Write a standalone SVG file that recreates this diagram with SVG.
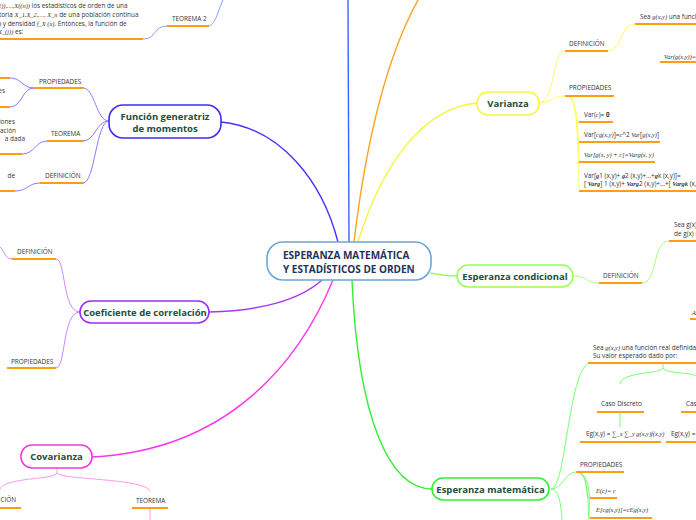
<svg xmlns="http://www.w3.org/2000/svg" width="696" height="520" viewBox="0 0 696 520">
<style>
.lbl{font-family:"Open Sans","Noto Sans",sans-serif;font-size:6.4px;fill:#333}
.m{font-family:"Liberation Serif",serif;font-style:italic}
.b{font-weight:bold}
.ul{stroke:#ff9d14;stroke-width:2;fill:none}
.nt{font-family:"Open Sans","Noto Sans",sans-serif;font-weight:bold;font-size:9.5px;fill:#1d4d3b;text-anchor:middle}
.c{fill:none;stroke-width:1.4}
.s{fill:none;stroke-width:1}
</style>
<rect width="696" height="520" fill="#fff"/>
<g id="connectors">
<path class="c" stroke="#3b63ff" d="M348,0 L349,242"/>
<path class="c" stroke="#ffa020" d="M354,242 C365,150 385,60 418,0"/>
<path class="c" stroke="#f5f542" d="M358,242 C380,170 420,108 477,103"/>
<path class="c" stroke="#99ff55" d="M430,273 C440,275 450,276 457,276"/>
<path class="c" stroke="#33ee33" d="M352,280 C358,420 390,489 432,489"/>
<path class="c" stroke="#ff33ee" d="M333,280 C300,360 230,450 92,457"/>
<path class="c" stroke="#aa33ff" d="M322,280 C300,300 260,311 209,312"/>
<path class="c" stroke="#4433ff" d="M221,122 C280,128 322,180 338,242"/>
<g stroke="#8c7cff">
<path class="s" d="M109,121 C96,121 95,88 83,88"/>
<path class="s" d="M109,121 C96,121 95,141 83,141"/>
<path class="s" d="M109,121 C96,121 95,183 83,183"/>
<path class="s" d="M34,88 C22,88 22,78 10,78"/>
<path class="s" d="M34,88 C22,88 22,107 10,107"/>
<path class="s" d="M47,141 C35,141 35,154 22,154"/>
<path class="s" d="M40,183 C28,183 28,191 15,191"/>
</g>
<g stroke="#8ca0ff">
<path class="s" d="M209,26 C216,24 218,10 223,0"/>
<path class="s" d="M143,39 C157,39 153,26 167,26"/>
</g>
<g stroke="#cc88ff">
<path class="s" d="M80,312 C62,312 66,259 56,259"/>
<path class="s" d="M80,312 C62,312 66,368 56,368"/>
<path class="s" d="M12,259 C5,259 4,250 0,247"/>
</g>
<g stroke="#ff99ee">
<path class="s" d="M57,468 L57,473 C55,480 5,477 0,489"/>
<path class="s" d="M57,473 C60,480 145,478 150,491"/>
<path class="s" d="M150,508 L150,520"/>
</g>
<g stroke="#ffff66">
<path class="s" d="M539,103 C555,103 552,51 565,51"/>
<path class="s" d="M539,103 C552,103 552,96 565,96"/>
<path class="s" d="M608,51 C622,51 620,24 635,24"/>
<path class="s" d="M568,96 C578,100 572,122 580,122"/>
<path class="s" d="M568,96 C580,100 574,142 580,142"/>
<path class="s" d="M568,96 C582,100 575,162 580,162"/>
<path class="s" d="M568,96 C584,100 576,191 580,191"/>
</g>
<g stroke="#aaff77">
<path class="s" d="M573,276 C588,276 585,283 599,283"/>
<path class="s" d="M642,283 C658,283 652,241 669,241"/>
</g>
<g stroke="#77ff77">
<path class="s" d="M551,489 C566,489 568,372 589,363"/>
<path class="s" d="M551,489 C563,489 565,472 576,472"/>
<path class="s" d="M551,489 C560,489 561,508 562,520"/>
<path class="s" d="M663,363 L663,368 C663,374 622,371 620,384"/>
<path class="s" d="M663,368 C665,374 692,372 696,376"/>
<path class="s" d="M620,412 L620,427"/>
<path class="s" d="M578,472 C590,476 584,498 590,498"/>
<path class="s" d="M578,472 C592,476 586,518 590,518"/>
<path class="s" d="M578,472 C594,476 588,510 589,520"/>
</g>
</g>
<g id="central">
<rect x="267" y="242" width="164" height="38" rx="16" fill="#fff" stroke="#6aa6d8" stroke-width="1.6"/>
<text font-family="Open Sans,Noto Sans,sans-serif" font-weight="bold" font-size="10" fill="#1b3358"><tspan x="283" y="259">ESPERANZA MATEMÁTICA</tspan><tspan x="283" y="272.5">Y ESTADÍSTICOS DE ORDEN</tspan></text>
</g>
<g id="fgm">
<rect x="109" y="105" width="112" height="33" rx="14" fill="#fff" stroke="#3d2ef0" stroke-width="1.6"/>
<text class="nt" x="165" y="119.5">Función generatriz</text>
<text class="nt" x="165" y="131.5">de momentos</text>
</g>
<g id="fgm-prop"><path class="ul" d="M34,88 H84"/><text class="lbl" x="39" y="84">PROPIEDADES</text></g>
<g id="fgm-prop-1"><path class="ul" d="M0,78 H10"/></g>
<g id="fgm-prop-2"><path class="ul" d="M0,107 H10"/><text class="lbl" x="5" y="93" text-anchor="end">es</text></g>
<g id="fgm-teo"><path class="ul" d="M47,141 H84"/><text class="lbl" x="51" y="136">TEOREMA</text></g>
<g id="fgm-teo-1"><path class="ul" d="M0,154 H22"/><text class="lbl" text-anchor="end"><tspan x="15" y="124">iones</tspan><tspan x="16" y="132.5">ación</tspan><tspan x="25" y="141">a dada</tspan></text></g>
<g id="fgm-def"><path class="ul" d="M40,183 H84"/><text class="lbl" x="45" y="178">DEFINICIÓN</text></g>
<g id="fgm-def-1"><path class="ul" d="M0,191 H15"/><text class="lbl" x="15" y="178" text-anchor="end">de</text></g>
<g id="teorema2"><path class="ul" d="M167,26 H209"/><text class="lbl" x="172" y="21">TEOREMA 2</text></g>
<g id="teorema2-1"><path class="ul" d="M0,39 H143"/>
<text class="lbl"><tspan x="-2" y="8"><tspan class="m">2)),…,X((n))</tspan> los estadísticos de orden de una</tspan><tspan x="-1" y="17">toria <tspan class="m">X_1,X_2,…, X_n</tspan> de una población continua</tspan><tspan x="-1" y="26"><tspan class="m">)</tspan> y densidad <tspan class="m">f_X (x)</tspan>. Entonces, la función de</tspan><tspan x="-2" y="34"><tspan class="m">X_(j))</tspan> es:</tspan></text></g>
<g id="coef">
<rect x="80" y="301" width="129" height="22" rx="11" fill="#fff" stroke="#9b2ff0" stroke-width="1.6"/>
<text class="nt" x="145" y="315.5">Coeficiente de correlación</text>
</g>
<g id="coef-def"><path class="ul" d="M12,259 H56"/><text class="lbl" x="17" y="254">DEFINICIÓN</text></g>
<g id="coef-prop"><path class="ul" d="M7,368 H56"/><text class="lbl" x="11" y="364">PROPIEDADES</text></g>
<g id="cov">
<rect x="21" y="445" width="71" height="23" rx="11" fill="#fff" stroke="#f03ad8" stroke-width="1.6"/>
<text class="nt" x="56.5" y="460">Covarianza</text>
</g>
<g id="cov-def"><path class="ul" d="M0,508 H21"/><text class="lbl" x="16" y="502" text-anchor="end">ICIÓN</text></g>
<g id="cov-teo"><path class="ul" d="M132,508 H168"/><text class="lbl" x="136" y="503">TEOREMA</text></g>
<g id="varianza">
<rect x="477" y="92" width="62" height="23" rx="11" fill="#fff" stroke="#f5f542" stroke-width="1.6"/>
<text class="nt" x="508" y="106.5">Varianza</text>
</g>
<g id="var-def"><path class="ul" d="M565,51 H608"/><text class="lbl" x="569" y="46">DEFINICIÓN</text></g>
<g id="var-def-1"><path class="ul" d="M635,24 H696"/><text class="lbl" x="640" y="19">Sea <tspan class="m">g(x,y)</tspan> una funció</text></g>
<g id="var-def-2"><path class="ul" d="M660,62 H696"/><text class="lbl m" x="664" y="59">Var(g(x,y))=</text></g>
<g id="var-prop"><path class="ul" d="M565,96 H614"/><text class="lbl" x="569" y="90">PROPIEDADES</text></g>
<g id="var-p1"><path class="ul" d="M579,122 H613"/><text class="lbl" x="584" y="117">Var(<tspan class="m">c</tspan>)= <tspan class="b">0</tspan></text></g>
<g id="var-p2"><path class="ul" d="M579,142 H660"/><text class="lbl" x="584" y="137">Var[<tspan class="m">cg(x,y)</tspan>]=<tspan class="m">c</tspan>^2 <tspan class="m">Var</tspan>[<tspan class="m">g(x,y)</tspan>]</text></g>
<g id="var-p3"><path class="ul" d="M579,162 H655"/><text class="lbl m" x="584" y="157">Var[g(x, y) + c]=Varg(x, y)</text></g>
<g id="var-p4"><path class="ul" d="M579,191 H696"/><text class="lbl"><tspan x="584" y="178">Var[<tspan class="m b">g</tspan>1 (x,y)+ <tspan class="m b">g</tspan>2 (x,y)+…+<tspan class="m b">g</tspan>k (x,y)]=</tspan><tspan x="584" y="185.5">[  <tspan class="m b">Varg</tspan>]  1 (x,y)+ <tspan class="m b">Varg</tspan>2 (x,y)+…+[  <tspan class="m b">Vargk</tspan> (x,</tspan></text></g>
<g id="econd">
<rect x="457" y="265" width="116" height="22" rx="11" fill="#fff" stroke="#99ff55" stroke-width="1.6"/>
<text class="nt" x="515" y="279.5">Esperanza condicional</text>
</g>
<g id="econd-def"><path class="ul" d="M599,283 H642"/><text class="lbl" x="603" y="278">DEFINICIÓN</text></g>
<g id="econd-def-1"><path class="ul" d="M669,241 H696"/><text class="lbl"><tspan x="674" y="227">Sea g(x)</tspan><tspan x="674" y="236">de g(x) c</tspan></text></g>
<g id="econd-def-2"><path class="ul" d="M690,319 H696"/><text class="lbl m" x="692" y="315">A</text></g>
<g id="emat">
<rect x="432" y="478" width="117" height="22" rx="11" fill="#fff" stroke="#33ee33" stroke-width="1.6"/>
<text class="nt" x="490.5" y="492.5">Esperanza matemática</text>
</g>
<g id="emat-sea"><path class="ul" d="M588,363 H696"/><text class="lbl"><tspan x="593" y="350">Sea <tspan class="m">g(x,y)</tspan> una función real definida pa</tspan><tspan x="593" y="358">Su valor esperado dado por:</tspan></text></g>
<g id="caso-d"><path class="ul" d="M597,412 H644"/><text class="lbl" x="601" y="406">Caso Discreto</text></g>
<g id="caso-c"><path class="ul" d="M681,412 H696"/><text class="lbl" x="686" y="406">Caso</text></g>
<g id="eg-d"><path class="ul" d="M580,442 H661"/><text class="lbl" x="586" y="436">Eg(x,y) = <tspan class="m">∑_x ∑_y g(x,y)f(x,y)</tspan></text></g>
<g id="eg-c"><path class="ul" d="M666,442 H696"/><text class="lbl" x="671" y="436">Eg(x,y) = <tspan class="m">∫</tspan></text></g>
<g id="emat-prop"><path class="ul" d="M576,472 H624"/><text class="lbl" x="580" y="467">PROPIEDADES</text></g>
<g id="emat-p1"><path class="ul" d="M590,498 H617"/><text class="lbl m" x="596" y="493">E(c)= c</text></g>
<g id="emat-p2"><path class="ul" d="M590,518 H652"/><text class="lbl m" x="596" y="512">E[cg(x,y)]=cEg(x,y)</text></g>
</svg>
